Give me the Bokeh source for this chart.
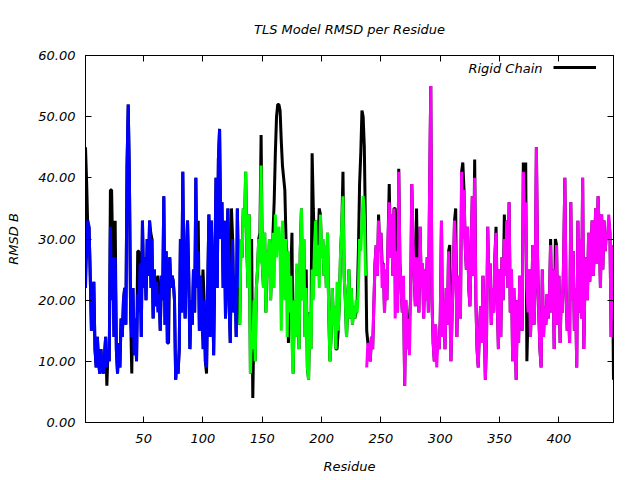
from bokeh.plotting import figure
from bokeh.models import (LinearAxis, FixedTicker, PrintfTickFormatter, Label,
                          Legend, LegendItem, Range1d)
from bokeh.embed import file_html
from bokeh.resources import INLINE

# ---------------- data ----------------
residue = list(range(1, 447))

rigid_chain = [
    45, 39, 31, 32, 24, 15, 18, 23, 12, 9,
    14, 10, 8, 12, 9, 8, 11, 14, 6, 12,
    10, 38, 38, 27, 14, 33, 12, 8, 13, 9,
    17, 14, 20, 22, 16, 42, 52, 40, 18, 8,
    22, 11, 17, 10, 28, 28, 26, 14, 33, 22,
    27, 20, 30, 24, 33, 31, 30, 17, 25, 19,
    23, 24, 21, 15, 24, 20, 37, 16, 28, 13,
    13, 27, 22, 24, 23, 20, 7, 10, 8, 12,
    30, 18, 41, 22, 17, 28, 33, 24, 12, 20,
    16, 25, 18, 40, 22, 33, 15, 24, 18, 25,
    20, 10, 8, 22, 34, 14, 33, 25, 11, 26,
    40, 22, 43, 48, 30, 36, 22, 33, 17, 28,
    35, 20, 13, 35, 30, 18, 24, 14, 35, 22,
    16, 30, 27, 35, 32, 41, 28, 22, 34, 8,
    30, 4, 17, 10, 22, 25, 30, 31, 47, 26,
    22, 31, 18, 28, 24, 30, 20, 26, 31, 36,
    44, 50, 52, 52, 51, 46, 42, 40, 38, 30,
    27, 13, 18, 24, 31, 8, 20, 14, 25, 18,
    12, 28, 35, 20, 30, 14, 25, 9, 7, 18,
    12, 44, 35, 29, 33, 24, 29, 35, 34, 27,
    30, 24, 29, 22, 31, 18, 10, 14, 22, 16,
    19, 12, 12, 15, 20, 28, 32, 41, 24, 20,
    14, 19, 25, 17, 22, 16, 19, 17, 18, 20,
    28, 39, 44, 51, 50, 45, 31, 15, 13, 12,
    10, 14, 12, 19, 26, 29, 24, 34, 28, 31,
    26, 26, 18, 25, 20, 30, 39, 27, 34, 24,
    35, 35, 28, 18, 41.5, 26, 22, 18, 22, 6,
    20, 12, 17, 17, 20, 39, 30, 24, 19, 35,
    22, 18, 32, 22, 26, 17, 25, 20, 27, 18,
    38, 55, 20, 13, 10, 16, 11, 14, 12, 17,
    33, 14, 20, 12, 22, 16, 28, 29, 10, 18,
    24, 33, 35, 14, 24, 20, 17, 41, 42.5, 38,
    29, 25, 32, 22, 19, 28, 37, 24, 43, 20,
    12, 9, 15, 19, 13, 24, 17, 7, 14, 32,
    22, 26, 16, 22, 18, 27, 32, 20, 12, 25,
    14, 27, 20, 34, 24, 33, 22, 36, 18, 25,
    10, 22, 15, 7, 20, 13, 24, 18, 15, 42.5,
    33, 42.5, 10, 18, 25, 14, 20, 29, 16, 22,
    45, 27, 18, 12, 9, 25, 14, 19, 16, 21,
    17, 20, 30, 18, 25, 12, 30, 29, 16, 24,
    13, 21, 18, 27, 40, 22, 15, 19, 13, 36,
    20, 28, 15, 22, 9, 33, 18, 30, 17, 40,
    12, 24, 27, 20, 31, 23, 28, 33, 24, 29,
    35, 26, 37, 31, 22, 34, 25, 33, 28, 31,
    30, 33, 31, 14, 29, 7,
]

tls_model = [
    22, 28, 33, 32, 24, 15, 19, 23, 12, 9,
    14, 10, 8, 12, 9, 8, 11, 14, 9, 12,
    10, 32, 20, 27, 14, 27, 12, 8, 13, 9,
    17, 14, 20, 22, 16, 42, 52, 40, 18, 14,
    22, 11, 17, 10, 21, 18, 26, 14, 33, 22,
    27, 20, 30, 24, 33, 22, 30, 17, 25, 19,
    23, 18, 21, 15, 24, 20, 37, 16, 28, 13,
    20, 27, 22, 24, 23, 20, 7, 10, 8, 12,
    30, 18, 41, 22, 17, 28, 33, 24, 12, 20,
    16, 25, 18, 40, 22, 28, 15, 24, 18, 12,
    20, 10, 9, 22, 34, 14, 33, 25, 11, 26,
    40, 22, 43, 48, 30, 36, 22, 33, 17, 28,
    35, 20, 13, 25, 30, 18, 24, 14, 35, 22,
    16, 30, 27, 35, 32, 41, 28, 22, 34, 8,
    15, 12, 20, 10, 22, 25, 30, 26, 42, 26,
    22, 31, 18, 28, 24, 30, 20, 26, 31, 22,
    34, 27, 30, 32, 28, 15, 33, 25, 20, 30,
    14, 28, 18, 24, 13, 8, 20, 14, 26, 18,
    12, 28, 35, 20, 30, 14, 22, 9, 7, 18,
    12, 25, 20, 29, 33, 24, 29, 22, 34, 27,
    30, 24, 29, 22, 31, 18, 10, 14, 22, 16,
    19, 12, 23, 15, 20, 28, 32, 37, 24, 20,
    14, 19, 25, 17, 22, 16, 19, 17, 20, 18,
    22, 30, 28, 33, 37, 34, 24, 9, 13, 11,
    10, 14, 12, 19, 26, 29, 24, 33, 28, 31,
    22, 26, 18, 25, 20, 30, 36, 27, 34, 24,
    35, 17, 28, 18, 41, 26, 22, 18, 24, 6,
    20, 12, 17, 11, 20, 39, 30, 24, 19, 27,
    22, 18, 32, 22, 26, 17, 25, 20, 27, 18,
    38, 55, 20, 13, 10, 16, 9, 14, 12, 17,
    33, 14, 20, 12, 22, 16, 28, 19, 10, 18,
    24, 33, 28, 14, 24, 20, 17, 41, 30, 38,
    29, 25, 32, 22, 19, 28, 37, 24, 40, 20,
    12, 9, 15, 19, 13, 24, 17, 7, 14, 32,
    22, 26, 16, 22, 18, 27, 31, 20, 12, 25,
    14, 27, 20, 30, 24, 33, 22, 36, 18, 25,
    10, 22, 15, 7, 20, 13, 24, 18, 15, 41,
    33, 36, 22, 18, 25, 14, 20, 29, 16, 22,
    45, 27, 18, 12, 9, 25, 14, 19, 16, 21,
    17, 20, 29, 18, 25, 12, 22, 29, 16, 24,
    13, 21, 18, 27, 40, 22, 15, 19, 13, 36,
    20, 28, 15, 22, 9, 33, 18, 30, 17, 40,
    12, 24, 27, 20, 31, 23, 28, 33, 24, 29,
    35, 26, 37, 31, 22, 34, 25, 33, 28, 31,
    30, 34, 31, 14, 29, 22,
]

# TLS segments (first residue, last residue, colour)
segment_first = [1, 131, 238]
segment_last = [130, 237, 446]
segment_color = ["#0000ff", "#00ff00", "#ff00ff"]

x_ticks = [50, 100, 150, 200, 250, 300, 350, 400]
y_ticks = [0, 10, 20, 30, 40, 50, 60]

title_text = "TLS Model RMSD per Residue"
x_label = "Residue"
y_label = "RMSD B"
legend_text = "Rigid Chain"

FONT = "DejaVu Sans"
FS = "13px"

# ---------------- figure ----------------
p = figure(width=640, height=480,
           x_range=Range1d(1, 446), y_range=Range1d(0, 60),
           output_backend="svg", toolbar_location=None,
           x_axis_location=None, y_axis_location=None,
           min_border_left=85, min_border_right=27,
           min_border_top=55, min_border_bottom=58)
p.grid.visible = False
p.background_fill_color = "white"
p.border_fill_color = "white"
p.outline_line_color = "black"
p.outline_line_width = 1
p.outline_line_alpha = 1

p.title.text = title_text
p.title.align = "center"
p.title.text_font = FONT
p.title.text_font_style = "italic"
p.title.text_font_size = FS
p.title.text_color = "black"
p.title.offset = 0
p.title.standoff = 38


def make_axis(show_labels, label=None):
    ax = LinearAxis()
    ax.minor_tick_line_color = None
    ax.major_tick_in = 6
    ax.major_tick_out = 0
    ax.major_tick_line_color = "black"
    ax.axis_line_color = "black"
    ax.major_label_text_font = FONT
    ax.major_label_text_font_style = "italic"
    if show_labels:
        ax.major_label_text_color = "black"
        ax.major_label_text_font_size = FS
        if label:
            ax.axis_label = label
            ax.axis_label_text_font = FONT
            ax.axis_label_text_font_style = "italic"
            ax.axis_label_text_font_size = FS
            ax.axis_label_text_color = "black"
    else:
        # mirror axis: ticks only, no labels drawn
        ax.major_label_text_color = None
        ax.major_label_text_font_size = "1px"
        ax.major_label_standoff = 0
    return ax


xb = make_axis(True, x_label)
xb.ticker = FixedTicker(ticks=x_ticks)
xb.major_label_standoff = 11
xb.axis_label_standoff = 13
p.add_layout(xb, "below")

xt = make_axis(False)
xt.ticker = FixedTicker(ticks=x_ticks)
p.add_layout(xt, "above")

yl = make_axis(True, y_label)
yl.ticker = FixedTicker(ticks=y_ticks)
yl.formatter = PrintfTickFormatter(format="%.2f")
yl.major_label_standoff = 10
yl.axis_label_standoff = 14
p.add_layout(yl, "left")

yr = make_axis(False)
yr.ticker = FixedTicker(ticks=y_ticks)
p.add_layout(yr, "right")

# rigid chain (black) underneath
rigid_r = p.line(residue, rigid_chain, line_color="black", line_width=3)

# TLS segments on top
for first, last, col in zip(segment_first, segment_last, segment_color):
    i0, i1 = first - 1, last
    p.line(residue[i0:i1], tls_model[i0:i1], line_color=col, line_width=3)

# legend: text on the left, line sample on the right (gnuplot style)
leg = Legend(items=[LegendItem(label=" ", renderers=[rigid_r])],
             location=(468, 350), glyph_width=43, glyph_height=10,
             padding=0, margin=0, spacing=0, label_standoff=0,
             label_width=0, label_height=10, label_text_font_size="1px",
             border_line_color=None, background_fill_alpha=0)
p.add_layout(leg)

p.add_layout(Label(x=457, y=354, x_units="screen", y_units="screen",
                   text=legend_text, text_align="right",
                   text_baseline="middle", text_font=FONT,
                   text_font_style="italic", text_font_size=FS,
                   text_color="black"))

open("out.html", "w").write(file_html(p, INLINE))
